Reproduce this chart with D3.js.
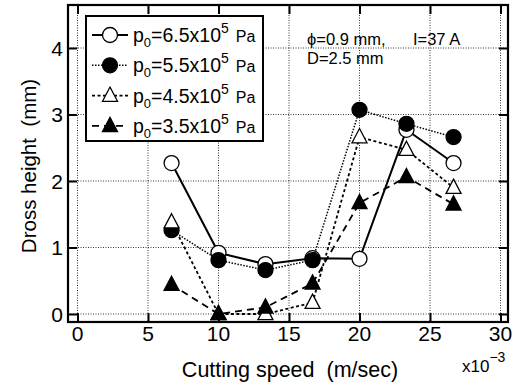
<!DOCTYPE html>
<html>
<head>
<meta charset="utf-8">
<script src="https://cdn.jsdelivr.net/npm/d3@7"></script>
<style>
body { margin: 0; background: #fff; }
text { font-family: "Liberation Sans", Arial, sans-serif; fill: #000; }
</style>
</head>
<body>
<svg id="chart" width="519" height="385"></svg>
<script>
// cutting speed (x10^-3 m/sec)
const speeds = [6.67, 10, 13.33, 16.67, 20, 23.33, 26.67];
// dross height (mm) per nozzle pressure
const p65 = [2.27, 0.92, 0.75, 0.84, 0.83, 2.77, 2.27];
const p55 = [1.26, 0.81, 0.66, 0.81, 3.07, 2.86, 2.66];
const p45 = [1.38, 0.0, 0.0, 0.17, 2.66, 2.47, 1.9];
const p35 = [0.44, 0.0, 0.1, 0.46, 1.67, 2.06, 1.65];
const pressures = ["6.5", "5.5", "4.5", "3.5"];
const xTicks = [0, 5, 10, 15, 20, 25, 30];
const yTicks = [0, 1, 2, 3, 4];

const series = [
	{p: pressures[0], vals: p65, marker: "circle", fill: "#fff", dash: null, width: 2},
	{p: pressures[1], vals: p55, marker: "circle", fill: "#000", dash: "1.5,1.5", width: 1.5},
	{p: pressures[2], vals: p45, marker: "triangle", fill: "#fff", dash: "3,2.5", width: 1.8},
	{p: pressures[3], vals: p35, marker: "triangle", fill: "#000", dash: "7,5", width: 1.8}
];

const svg = d3.select("#chart");
const frameL = 68, frameR = 508, frameT = 5, frameB = 322;

const x = d3.scaleLinear().domain([0, 30]).range([77.5, 500.5]);
const y = d3.scaleLinear().domain([0, 4]).range([314, 48]);

//dotted grid
svg.append("g").selectAll("line")
	.data(xTicks)
	.enter().append("line")
	.attr("x1", d => x(d)).attr("x2", d => x(d))
	.attr("y1", frameT).attr("y2", frameB)
	.attr("stroke", "#000").attr("stroke-width", 0.8)
	.attr("stroke-dasharray", "1,1.5");
svg.append("g").selectAll("line")
	.data(yTicks)
	.enter().append("line")
	.attr("x1", frameL).attr("x2", frameR)
	.attr("y1", d => y(d)).attr("y2", d => y(d))
	.attr("stroke", "#000").attr("stroke-width", 0.8)
	.attr("stroke-dasharray", "1,1.5");

//frame
svg.append("rect")
	.attr("x", frameL).attr("y", frameT)
	.attr("width", frameR - frameL).attr("height", frameB - frameT)
	.attr("fill", "none").attr("stroke", "#000").attr("stroke-width", 2.2);

//inward ticks on all four sides
const bottomAxis = d3.axisTop(x).tickValues(xTicks).tickSize(9).tickFormat("");
const topAxis = d3.axisBottom(x).tickValues(xTicks).tickSize(9).tickFormat("");
const leftAxis = d3.axisRight(y).tickValues(yTicks).tickSize(9).tickFormat("");
const rightAxis = d3.axisLeft(y).tickValues(yTicks).tickSize(9).tickFormat("");
[[bottomAxis, `translate(0,${frameB})`], [topAxis, `translate(0,${frameT})`],
 [leftAxis, `translate(${frameL},0)`], [rightAxis, `translate(${frameR},0)`]].forEach(([ax, tr]) => {
	const g = svg.append("g").attr("transform", tr).call(ax);
	g.select(".domain").remove();
	g.selectAll("line").attr("stroke", "#000").attr("stroke-width", 2);
});

//tick labels
svg.append("g").selectAll("text")
	.data(xTicks)
	.enter().append("text")
	.attr("x", d => x(d)).attr("y", 341)
	.attr("text-anchor", "middle").attr("font-size", 21)
	.text(d => d);
svg.append("g").selectAll("text")
	.data(yTicks)
	.enter().append("text")
	.attr("x", 63).attr("y", d => y(d) + 7.5)
	.attr("text-anchor", "end").attr("font-size", 21)
	.text(d => d);

//axis titles
svg.append("text")
	.attr("x", 290).attr("y", 377)
	.attr("text-anchor", "middle").attr("font-size", 21.5)
	.attr("xml:space", "preserve")
	.text("Cutting speed  (m/sec)");
svg.append("text")
	.attr("transform", "translate(36,166) rotate(-90)")
	.attr("text-anchor", "middle").attr("font-size", 20.5)
	.attr("xml:space", "preserve")
	.text("Dross height  (mm)");
const mult = svg.append("text").attr("x", 462).attr("y", 372).attr("font-size", 17);
mult.append("tspan").text("x10");
mult.append("tspan").attr("dy", -10).attr("font-size", 14).text("\u22123");

//annotation
svg.append("text").attr("x", 307).attr("y", 45).attr("font-size", 16.5)
	.attr("xml:space", "preserve")
	.text("\u03d5=0.9 mm,      I=37 A");
svg.append("text").attr("x", 307).attr("y", 64).attr("font-size", 16.5)
	.text("D=2.5 mm");

const line = d3.line().x((d, i) => x(speeds[i])).y(d => y(d));

function drawMarker(g, type, fill, cx, cy, size) {
	if (type === "circle") {
		g.append("circle").attr("cx", cx).attr("cy", cy).attr("r", size)
			.attr("fill", fill).attr("stroke", "#000").attr("stroke-width", 1.3);
	} else {
		const h = size * 1.9;
		g.append("path")
			.attr("d", `M${cx},${cy - h * 0.6}L${cx + size},${cy + h * 0.4}L${cx - size},${cy + h * 0.4}Z`)
			.attr("fill", fill).attr("stroke", "#000").attr("stroke-width", 1.3);
	}
}

//lines and markers
series.forEach(s => {
	const g = svg.append("g");
	g.append("path")
		.attr("d", line(s.vals))
		.attr("fill", "none").attr("stroke", "#000")
		.attr("stroke-width", s.width)
		.attr("stroke-dasharray", s.dash);
	s.vals.forEach((v, i) => drawMarker(g, s.marker, s.fill, x(speeds[i]), y(v), 7.5));
});

//legend
svg.append("rect")
	.attr("x", 86).attr("y", 16).attr("width", 177).attr("height", 125)
	.attr("fill", "#fff").attr("stroke", "#000").attr("stroke-width", 2);
series.forEach((s, i) => {
	const ly = 35 + i * 30.3;
	const g = svg.append("g");
	g.append("line")
		.attr("x1", 92).attr("x2", 128).attr("y1", ly).attr("y2", ly)
		.attr("stroke", "#000").attr("stroke-width", s.width)
		.attr("stroke-dasharray", s.dash);
	drawMarker(g, s.marker, s.fill, 110, ly, 7.5);
	const t = g.append("text").attr("x", 133).attr("y", ly + 7).attr("font-size", 19.5);
	t.append("tspan").text("p");
	t.append("tspan").attr("dy", 5).attr("font-size", 13).text("0");
	t.append("tspan").attr("dy", -5).text("=" + s.p + "x10");
	t.append("tspan").attr("dy", -9).attr("font-size", 14).text("5");
	t.append("tspan").attr("dy", 9).attr("font-size", 16).attr("dx", 7).text("Pa");
});
</script>
</body>
</html>
